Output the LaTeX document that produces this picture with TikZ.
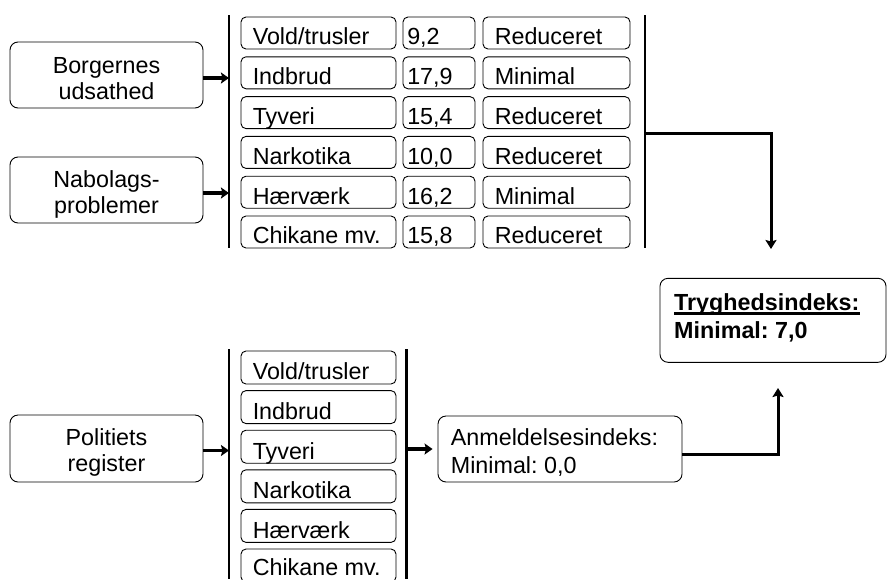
\documentclass[tikz,border=0pt]{standalone}
\usepackage{fontspec}
\setmainfont{Liberation Sans}
\usetikzlibrary{arrows.meta,calc}
\frenchspacing
\begin{document}
\begin{tikzpicture}[x=1pt,y=-1pt,
  box/.style={draw,line width=0.9pt,rounded corners=8pt,inner sep=0pt},
  rbox/.style={draw,line width=0.9pt,rounded corners=5pt,inner sep=0pt,minimum height=34pt},
  txt/.style={inner sep=0pt,font=\fontsize{23.3}{26}\selectfont},
  btxt/.style={inner sep=0pt,font=\fontsize{23.3}{26}\selectfont\bfseries},
  bar/.style={line width=2.5pt},
  arr/.style={line width=3.5pt,-{Stealth[length=8pt,width=11pt,inset=1.5pt]}},
  conn/.style={line width=3pt,-{Stealth[length=9pt,width=11pt,inset=1.5pt]}},
]
\useasboundingbox (0,0) rectangle (888,579);

% ---------- top section ----------
\node[box,minimum width=193pt,minimum height=66pt] (borg) at (106.5,75) {};
\node[txt,anchor=base] (borgA) at (106.5,73.3) {Borgernes};
\node[txt,anchor=base] (borgB) at (106.5,99.3) {udsathed};

\node[box,minimum width=193pt,minimum height=66pt] (nabo) at (106.5,190) {};
\node[txt,anchor=base] (naboA) at (106.5,187.7) {Nabolags-};
\node[txt,anchor=base] (naboB) at (106.5,213.7) {problemer};

\coordinate (b1t) at (229,15);
\coordinate (b1b) at (229,248);
\coordinate (b2t) at (645,15);
\coordinate (b2b) at (645,248);
\draw[bar] (b1t) -- (b1b);
\draw[bar] (b2t) -- (b2b);

\foreach \a/\b/\c [count=\i] in {{Vold/trusler}/{9,2}/Reduceret,
    Indbrud/{17,9}/Minimal, Tyveri/{15,4}/Reduceret, Narkotika/{10,0}/Reduceret,
    Hærværk/{16,2}/Minimal, {Chikane mv.}/{15,8}/Reduceret}{
  \pgfmathsetmacro\yc{17+39.8*(\i-1)+16}
  \node[rbox,minimum height=32pt,minimum width=155pt] (ta\i) at (318.5,\yc) {};
  \node[rbox,minimum height=32pt,minimum width=72pt] (tb\i) at (439,\yc) {};
  \node[rbox,minimum height=32pt,minimum width=147pt] (tc\i) at (556.5,\yc) {};
  \node[txt,anchor=base west] (tat\i) at ([shift={(12,-4.5)}]ta\i.south west) {\a};
  \node[txt,anchor=base west] (tbt\i) at ([shift={(4.5,-4.5)}]tb\i.south west) {\b};
  \node[txt,anchor=base west] (tct\i) at ([shift={(12,-4.5)}]tc\i.south west) {\c};
}

\draw[arr] ([yshift=-3pt]borg.east) -- ++(25.5,0);
\draw[arr,line width=4pt] ([yshift=-3pt]nabo.east) -- ++(25.5,0);

\coordinate (j1) at (645,133.5);
\coordinate (e1) at (771,249);
\draw[conn] (j1) -| (e1);

% ---------- result box ----------
\node[box,minimum width=226pt,minimum height=84pt] (tryg) at (773,320.3) {};
\node[btxt,anchor=base west] (trygA) at (674,310) {Tryghedsindeks:};
\node[btxt,anchor=base west] (trygB) at (674,338.3) {Minimal: 7,0};
\draw[line width=2.4pt] ([yshift=-3.4pt]trygA.base west) -- ([yshift=-3.4pt]trygA.base east);

% ---------- bottom section ----------
\node[box,minimum width=193pt,minimum height=67pt] (pol) at (106.5,448.5) {};
\node[txt,anchor=base] (polA) at (106.5,445.3) {Politiets};
\node[txt,anchor=base] (polB) at (106.5,471.3) {register};

\coordinate (b3t) at (229,349);
\coordinate (b3b) at (229,579);
\coordinate (b4t) at (406.5,349);
\coordinate (b4b) at (406.5,579);
\draw[bar] (b3t) -- (b3b);
\draw[bar] (b4t) -- (b4b);

\foreach \a/\dy [count=\i] in {{Vold/trusler}/4.5, Indbrud/4.5, Tyveri/4.5, Narkotika/4.5, Hærværk/4.5, {Chikane mv.}/6.5}{
  \pgfmathsetmacro\yc{351+39.6*(\i-1)+16.5}
  \node[rbox,minimum height=33pt,minimum width=155pt] (pa\i) at (318.5,\yc) {};
  \node[txt,anchor=base west] (pat\i) at ([shift={(12,-\dy)}]pa\i.south west) {\a};
}

\draw[arr] ([yshift=-2pt]pol.east) -- ++(25.5,0);

\node[box,minimum width=244pt,minimum height=66pt] (anm) at (560,449) {};
\node[txt,anchor=base west] (anmA) at (450.7,445) {Anmeldelsesindeks:};
\node[txt,anchor=base west] (anmB) at (450.7,473.3) {Minimal: 0,0};

\draw[arr] (anm.west -| b4t) -- ([xshift=-5pt]anm.west);

\coordinate (e2) at (778,388);
\draw[conn] ([yshift=-5pt]anm.east) -| (e2);
\end{tikzpicture}
\end{document}
